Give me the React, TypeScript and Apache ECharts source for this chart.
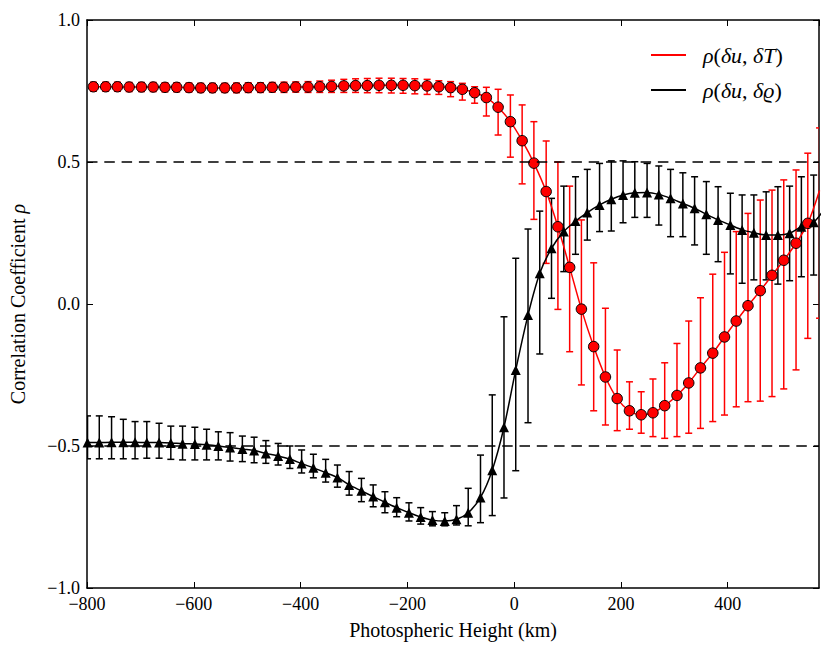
import React, { useEffect, useRef } from "react";
import * as echarts from "echarts";

// ---- data ----
const SERIES_T = "ρ(δu, δT)";
const SERIES_RHO = "ρ(δu, δϱ)";

const heightsT = [
  -788, -765, -743, -721, -698, -676, -654, -632, -609, -587, -565, -542, -520, -498, -475, -453,
  -431, -409, -386, -364, -342, -319, -297, -275, -253, -230, -208, -186, -163, -141, -119, -97,
  -74, -52, -30, -7, 15, 37, 60, 82, 104, 126, 149, 171, 193, 216, 238, 260, 282, 305, 327, 349,
  372, 394, 416, 438, 461, 483, 505, 528, 550, 572,
];
const rhoT = [
  0.765, 0.765, 0.765, 0.764, 0.764, 0.764, 0.763, 0.763, 0.762, 0.761, 0.761, 0.761, 0.761, 0.762,
  0.762, 0.763, 0.763, 0.764, 0.764, 0.765, 0.766, 0.768, 0.769, 0.769, 0.77, 0.77, 0.77, 0.769,
  0.768, 0.765, 0.762, 0.756, 0.744, 0.727, 0.693, 0.642, 0.575, 0.496, 0.396, 0.272, 0.129, -0.018,
  -0.15, -0.257, -0.333, -0.376, -0.39, -0.383, -0.358, -0.322, -0.278, -0.225, -0.173, -0.116,
  -0.06, -0.006, 0.047, 0.101, 0.154, 0.214, 0.284, 0.4,
];
const rhoTLow = [
  0.749, 0.749, 0.749, 0.748, 0.748, 0.748, 0.747, 0.747, 0.746, 0.745, 0.745, 0.745, 0.744, 0.745,
  0.745, 0.746, 0.745, 0.746, 0.745, 0.745, 0.745, 0.745, 0.745, 0.744, 0.744, 0.743, 0.742, 0.74,
  0.738, 0.738, 0.73, 0.718, 0.707, 0.662, 0.595, 0.517, 0.423, 0.298, 0.143, -0.019, -0.168, -0.285,
  -0.376, -0.426, -0.446, -0.441, -0.455, -0.467, -0.473, -0.467, -0.455, -0.438, -0.414, -0.391,
  -0.362, -0.344, -0.342, -0.326, -0.299, -0.232, -0.121, -0.05,
];
const rhoTHigh = [
  0.781, 0.781, 0.781, 0.78, 0.78, 0.78, 0.779, 0.779, 0.778, 0.777, 0.777, 0.777, 0.778, 0.779,
  0.779, 0.78, 0.781, 0.782, 0.783, 0.785, 0.788, 0.791, 0.793, 0.794, 0.795, 0.795, 0.794, 0.793,
  0.791, 0.786, 0.783, 0.777, 0.765, 0.763, 0.756, 0.736, 0.701, 0.642, 0.574, 0.5, 0.415, 0.296,
  0.145, -0.015, -0.162, -0.274, -0.309, -0.264, -0.207, -0.139, -0.06, 0.022, 0.105, 0.182, 0.255,
  0.319, 0.366, 0.401, 0.437, 0.472, 0.531, 0.62,
];

const heightsRho = [
  -799, -777, -754, -732, -710, -688, -665, -643, -621, -598, -576, -554, -532, -509, -487, -465,
  -442, -420, -398, -376, -353, -331, -309, -286, -264, -242, -220, -197, -175, -153, -130, -108,
  -86, -63, -41, -19, 3, 26, 48, 70, 93, 115, 137, 160, 182, 204, 226, 249, 271, 293, 316, 338,
  360, 382, 405, 427, 449, 472, 494, 516, 538, 561, 583,
];
const rhoRho = [
  -0.488, -0.488, -0.487, -0.487, -0.487, -0.488, -0.488, -0.489, -0.492, -0.493, -0.496, -0.5,
  -0.505, -0.511, -0.516, -0.526, -0.535, -0.546, -0.562, -0.577, -0.594, -0.611, -0.637, -0.658,
  -0.678, -0.698, -0.717, -0.735, -0.75, -0.761, -0.764, -0.758, -0.735, -0.681, -0.585, -0.434,
  -0.232, -0.039, 0.108, 0.196, 0.255, 0.292, 0.322, 0.349, 0.369, 0.384, 0.392, 0.393, 0.386,
  0.372, 0.354, 0.337, 0.316, 0.296, 0.278, 0.261, 0.251, 0.243, 0.243, 0.249, 0.272, 0.288, 0.34,
];
const rhoRhoLow = [
  -0.545, -0.545, -0.545, -0.545, -0.545, -0.543, -0.543, -0.547, -0.549, -0.549, -0.549, -0.549,
  -0.553, -0.555, -0.559, -0.561, -0.567, -0.579, -0.595, -0.612, -0.627, -0.645, -0.673, -0.696,
  -0.714, -0.735, -0.749, -0.764, -0.775, -0.781, -0.781, -0.778, -0.781, -0.77, -0.745, -0.683,
  -0.587, -0.418, -0.176, 0.02, 0.114, 0.175, 0.225, 0.255, 0.257, 0.286, 0.305, 0.305, 0.278,
  0.237, 0.237, 0.208, 0.175, 0.149, 0.106, 0.073, 0.085, 0.085, 0.07, 0.082, 0.096, 0.102, 0.15,
];
const rhoRhoHigh = [
  -0.394, -0.394, -0.397, -0.406, -0.414, -0.414, -0.42, -0.43, -0.43, -0.434, -0.441, -0.45,
  -0.453, -0.465, -0.469, -0.481, -0.491, -0.5, -0.514, -0.529, -0.547, -0.567, -0.59, -0.614,
  -0.637, -0.661, -0.682, -0.7, -0.717, -0.731, -0.735, -0.71, -0.649, -0.532, -0.32, -0.045,
  0.161, 0.264, 0.327, 0.372, 0.415, 0.448, 0.474, 0.495, 0.504, 0.504, 0.501, 0.495, 0.486,
  0.474, 0.462, 0.448, 0.431, 0.413, 0.39, 0.384, 0.384, 0.395, 0.413, 0.415, 0.448, 0.454, 0.5,
];

const xTickLabels = [-800, -600, -400, -200, 0, 200, 400];
const yTickLabels = [-1.0, -0.5, 0.0, 0.5, 1.0];
const referenceLines = [0.5, -0.5];

const FONT = "Liberation Serif";
const minus = (s: string) => s.replace("-", "\u2212");

function errorBars(color: string) {
  return (params: any, api: any) => {
    const x = api.value(0);
    const lo = api.value(1);
    const hi = api.value(2);
    const top = api.coord([x, hi]);
    const bot = api.coord([x, lo]);
    const w = 3.5;
    const style = { stroke: color, lineWidth: 1.5 };
    return {
      type: "group",
      children: [
        { type: "line", shape: { x1: top[0], y1: top[1], x2: bot[0], y2: bot[1] }, style },
        { type: "line", shape: { x1: top[0] - w, y1: top[1], x2: top[0] + w, y2: top[1] }, style },
        { type: "line", shape: { x1: bot[0] - w, y1: bot[1], x2: bot[0] + w, y2: bot[1] }, style },
      ],
    };
  };
}

export default function App() {
  const ref = useRef<HTMLDivElement>(null);
  useEffect(() => {
    if (!ref.current) return;
    const chart = echarts.init(ref.current, undefined, { renderer: "svg" });
    const axisLine = { show: true, onZero: false, lineStyle: { color: "#000", width: 1.5 } };
    const axisTick = { show: true, inside: true, length: 6, lineStyle: { color: "#000", width: 1 } };
    const xMin = -800;
    const xMax = 571;
    const option: any = {
      animation: false,
      textStyle: { fontFamily: FONT },
      grid: { left: 85, right: 12, top: 20, bottom: 66, containLabel: false },
      legend: {
        data: [
          { name: SERIES_T, icon: "rect" },
          { name: SERIES_RHO, icon: "rect" },
        ],
        orient: "vertical",
        left: 646,
        top: 39,
        itemWidth: 35,
        itemHeight: 2,
        itemGap: 13,
        itemStyle: { borderWidth: 0 },
        selectedMode: false,
        formatter: (name: string) =>
          name === SERIES_T
            ? "{s| }{i|ρ}{n|(}{i|δu}{n|, }{i|δT}{n|)}"
            : "{s| }{i|ρ}{n|(}{i|δu}{n|, }{i|δϱ}{n|)}",
        textStyle: {
          fontFamily: FONT,
          fontSize: 22,
          color: "#000",
          rich: {
            s: { width: 12, fontSize: 22, fontFamily: FONT },
            i: { fontStyle: "italic", fontFamily: FONT, fontSize: 22, color: "#000" },
            n: { fontFamily: FONT, fontSize: 22, color: "#000" },
          },
        },
      },
      xAxis: [
        {
          type: "value",
          min: xMin,
          max: xMax,
          interval: 200,
          position: "bottom",
          name: "Photospheric Height (km)",
          nameLocation: "middle",
          nameGap: 32,
          nameTextStyle: { fontFamily: FONT, fontSize: 20, color: "#000" },
          axisLine,
          axisTick,
          splitLine: { show: false },
          axisLabel: {
            margin: 7,
            fontFamily: FONT,
            fontSize: 18,
            color: "#000",
            showMaxLabel: false,
            formatter: (v: number) => (xTickLabels.includes(v) ? minus(String(v)) : ""),
          },
        },
        {
          type: "value",
          min: xMin,
          max: xMax,
          interval: 200,
          position: "top",
          axisLine,
          axisTick,
          splitLine: { show: false },
          axisLabel: { show: false },
        },
      ],
      yAxis: [
        {
          type: "value",
          min: -1,
          max: 1,
          interval: 0.5,
          position: "left",
          name: "Correlation Coefficient {i|ρ}",
          nameLocation: "middle",
          nameGap: 59,
          nameTextStyle: {
            fontFamily: FONT,
            fontSize: 20,
            color: "#000",
            rich: { i: { fontStyle: "italic", fontFamily: FONT, fontSize: 20, color: "#000" } },
          },
          axisLine,
          axisTick,
          splitLine: { show: false },
          axisLabel: {
            margin: 7,
            fontFamily: FONT,
            fontSize: 18,
            color: "#000",
            formatter: (v: number) =>
              yTickLabels.some((t) => Math.abs(t - v) < 1e-9) ? minus(v.toFixed(1)) : "",
          },
        },
        {
          type: "value",
          min: -1,
          max: 1,
          interval: 0.5,
          position: "right",
          axisLine,
          axisTick,
          splitLine: { show: false },
          axisLabel: { show: false },
        },
      ],
      series: [
        {
          name: "errT",
          type: "custom",
          xAxisIndex: 0,
          yAxisIndex: 0,
          clip: true,
          renderItem: errorBars("#ff0000"),
          encode: { x: 0, y: [1, 2] },
          data: heightsT.map((x, i) => [x, rhoTLow[i], rhoTHigh[i]]),
          markLine: {
            silent: true,
            symbol: "none",
            label: { show: false },
            lineStyle: { color: "#000", type: [10.5, 6.8], width: 1.5 },
            data: referenceLines.map((y) => ({ yAxis: y })),
          },
        },
        {
          name: SERIES_T,
          type: "line",
          xAxisIndex: 0,
          yAxisIndex: 0,
          smooth: 0.3,
          clip: true,
          symbol: "circle",
          symbolSize: 10.5,
          color: "#ff0000",
          itemStyle: { color: "#ff0000", borderColor: "#000", borderWidth: 1 },
          lineStyle: { color: "#ff0000", width: 1.5 },
          data: heightsT.map((x, i) => [x, rhoT[i]]),
        },
        {
          name: "errRho",
          type: "custom",
          xAxisIndex: 0,
          yAxisIndex: 0,
          clip: true,
          renderItem: errorBars("#000000"),
          encode: { x: 0, y: [1, 2] },
          data: heightsRho.map((x, i) => [x, rhoRhoLow[i], rhoRhoHigh[i]]),
        },
        {
          name: SERIES_RHO,
          type: "line",
          xAxisIndex: 0,
          yAxisIndex: 0,
          smooth: 0.3,
          clip: true,
          symbol: "triangle",
          symbolSize: 10,
          color: "#000000",
          itemStyle: { color: "#000000" },
          lineStyle: { color: "#000000", width: 1.5 },
          data: heightsRho.map((x, i) => [x, rhoRho[i]]),
        },
      ],
    };
    chart.setOption(option);
    return () => chart.dispose();
  }, []);
  return (
    <div
      ref={ref}
      style={{ position: "fixed", left: 0, top: 0, width: 831, height: 654, background: "#fff" }}
    />
  );
}
